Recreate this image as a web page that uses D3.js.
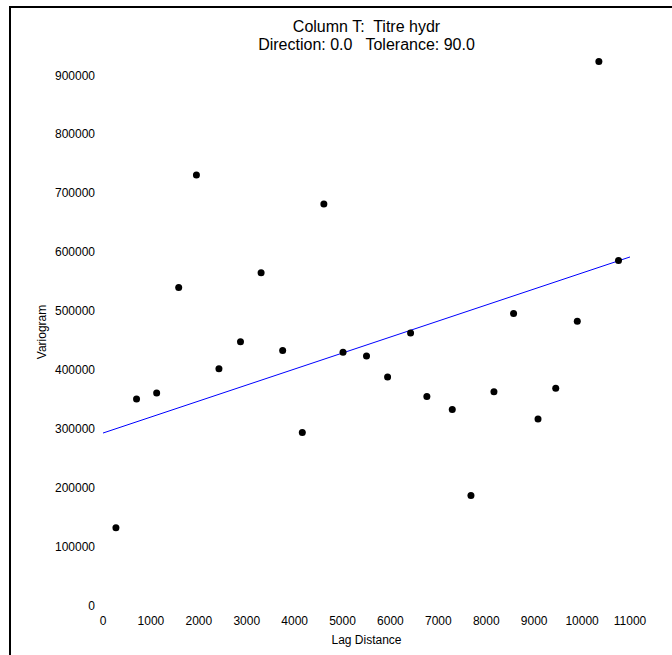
<!DOCTYPE html>
<meta charset="utf-8">

<head>
  <script src="https://d3js.org/d3.v7.min.js"></script>
</head>
<style>
  body { margin: 0; background: #fff; }
  text { font-family: Arial, "Liberation Sans", sans-serif; fill: #000; white-space: pre; }
</style>

<body>
  <script>
    // lag distances and variogram values
    var lags = [270, 700, 1120, 1580, 1950, 2420, 2870, 3300, 3750, 4160, 4610, 5010,
      5500, 5940, 6420, 6760, 7290, 7680, 8160, 8570, 9080, 9450, 9900, 10350, 10760];
    var gammas = [131000, 350000, 360000, 539000, 730000, 401000, 447000, 564000, 432000, 293000,
      681000, 429000, 423000, 387000, 462000, 354000, 332000, 186000, 362000, 495000,
      316000, 368000, 482000, 923000, 585000];
    // fitted linear model: value at lag 0 and at lag 11000
    var modelLags = [0, 11000];
    var modelValues = [292000, 591000];
    var xTicks = [0, 1000, 2000, 3000, 4000, 5000, 6000, 7000, 8000, 9000, 10000, 11000];
    var yTicks = [0, 100000, 200000, 300000, 400000, 500000, 600000, 700000, 800000, 900000];
    var titleLines = ["Column T:  Titre hydr", "Direction: 0.0   Tolerance: 90.0"];

    var W = 672, H = 655;
    var svg = d3.select("body").append("svg")
      .attr("width", W)
      .attr("height", H);

    // outer frame (right and bottom sides fall outside the picture)
    svg.append("rect")
      .attr("x", 10).attr("y", 7)
      .attr("width", 700).attr("height", 700)
      .attr("fill", "none")
      .attr("stroke", "#000")
      .attr("stroke-width", 2);

    var x = d3.scaleLinear().domain([0, 11000]).range([103, 630]);
    var y = d3.scaleLinear().domain([0, 900000]).range([605, 75]);

    // tick labels only, no axis lines
    svg.append("g").selectAll("text")
      .data(xTicks).enter().append("text")
      .attr("x", function (d) { return x(d); })
      .attr("y", 625)
      .attr("text-anchor", "middle")
      .attr("font-size", 12)
      .text(function (d) { return d; });

    svg.append("g").selectAll("text")
      .data(yTicks).enter().append("text")
      .attr("x", 95)
      .attr("y", function (d) { return y(d) + 4.5; })
      .attr("text-anchor", "end")
      .attr("font-size", 12)
      .text(function (d) { return d; });

    svg.append("text")
      .attr("x", (x(0) + x(11000)) / 2)
      .attr("y", 644)
      .attr("text-anchor", "middle")
      .attr("font-size", 12)
      .text("Lag Distance");

    svg.append("text")
      .attr("transform", "translate(46,332) rotate(-90)")
      .attr("text-anchor", "middle")
      .attr("font-size", 12)
      .text("Variogram");

    svg.append("g").selectAll("text")
      .data(titleLines).enter().append("text")
      .attr("x", (x(0) + x(11000)) / 2)
      .attr("y", function (d, i) { return 32 + i * 18; })
      .attr("text-anchor", "middle")
      .attr("font-size", 16)
      .text(function (d) { return d; });

    // model line
    var line = d3.line()
      .x(function (d, i) { return x(modelLags[i]); })
      .y(function (d) { return y(d); });
    svg.append("path")
      .datum(modelValues)
      .attr("d", line)
      .attr("fill", "none")
      .attr("stroke", "#0000ff")
      .attr("stroke-width", 1);

    // experimental variogram points
    svg.append("g").selectAll("circle")
      .data(lags).enter().append("circle")
      .attr("cx", function (d) { return x(d); })
      .attr("cy", function (d, i) { return y(gammas[i]); })
      .attr("r", 3.5)
      .attr("fill", "#000");
  </script>
